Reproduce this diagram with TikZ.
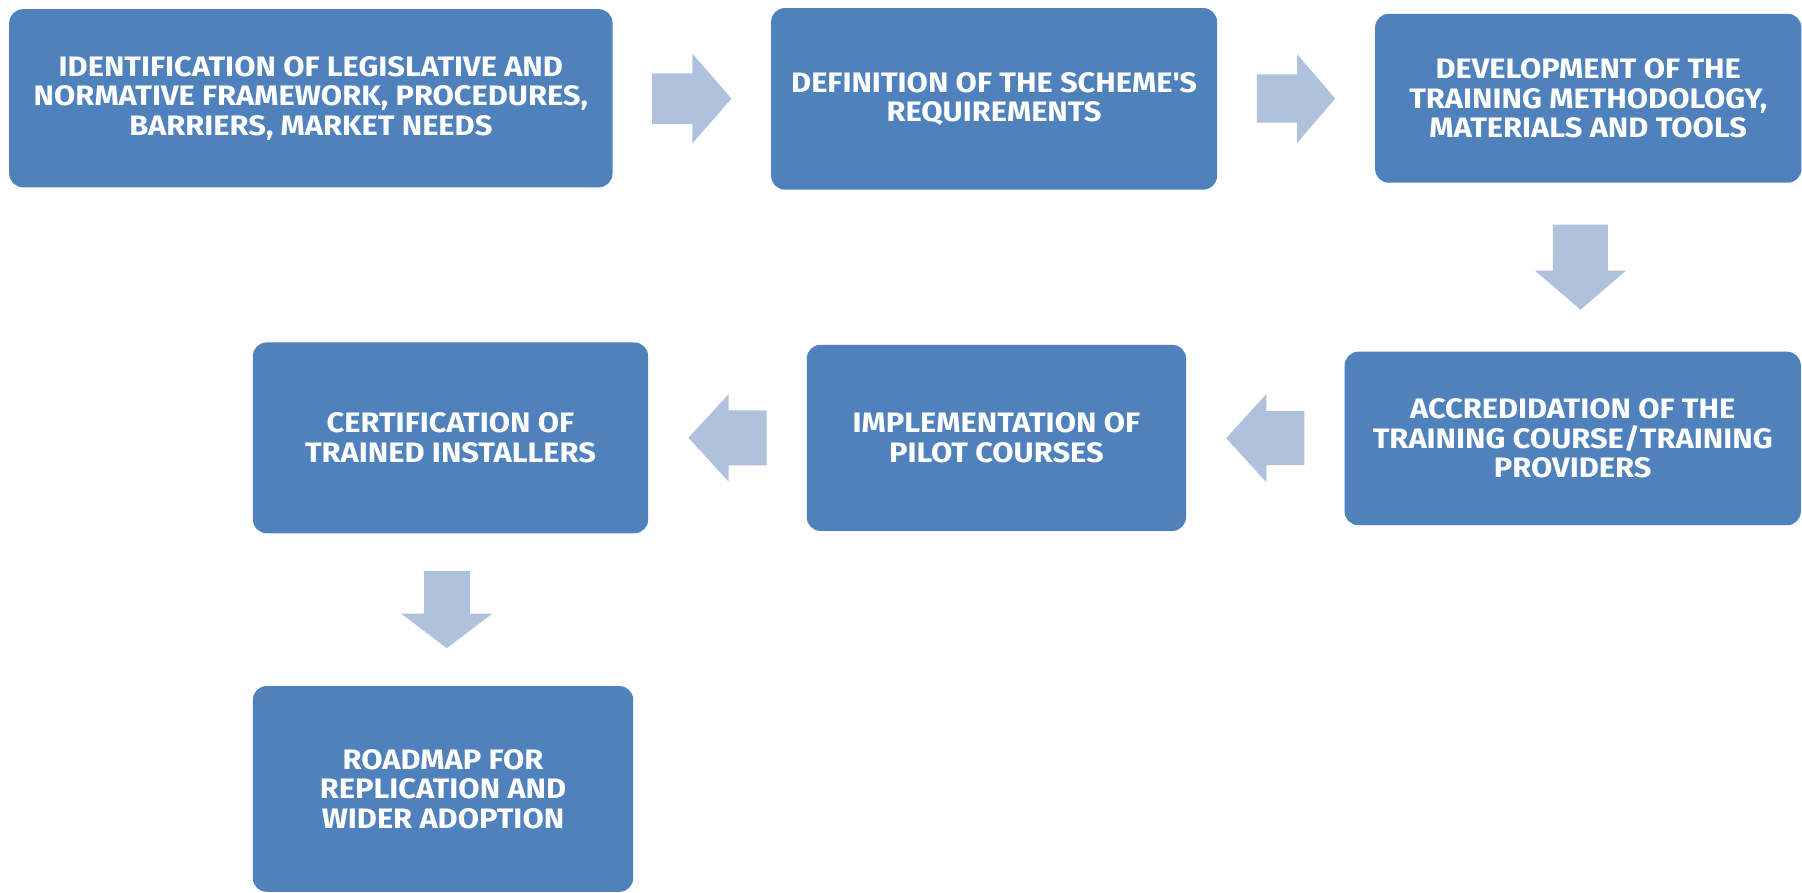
\documentclass[tikz,border=0pt]{standalone}
\usepackage{fontspec}
\setmainfont{Fira Sans}[BoldFeatures={FakeStretch=1.095}]
\usetikzlibrary{calc}
\definecolor{boxblue}{RGB}{79,129,189}
\definecolor{arrowblue}{RGB}{176,193,221}
\tikzset{
  stepbox/.style={fill=boxblue, rounded corners=12pt, text=white,
    font=\fontsize{24.5}{25.5}\selectfont\bfseries, align=center, inner sep=0pt},
  barrow/.style={fill=arrowblue}
}
% #1 centre, #2 angle, #3 length, #4 shaft width, #5 head width, #6 head length
\newcommand{\blkarrow}[6]{%
  \fill[barrow, shift={#1}, rotate=#2]
    ({-#3/2},{-#4/2}) -- ({#3/2-#6},{-#4/2}) -- ({#3/2-#6},{-#5/2}) --
    ({#3/2},0) -- ({#3/2-#6},{#5/2}) -- ({#3/2-#6},{#4/2}) --
    ({-#3/2},{#4/2}) -- cycle;}
\begin{document}
\begin{tikzpicture}[x=1pt,y=1pt]
\path[fill=white] (0,0) rectangle (1568,-777);
\useasboundingbox (0,0) rectangle (1568,-777);

\node[stepbox, minimum width=525pt, minimum height=155pt] (b1) at (270.5,-85.5)
  {IDENTIFICATION OF LEGISLATIVE AND\\NORMATIVE FRAMEWORK, PROCEDURES,\\BARRIERS, MARKET NEEDS};
\node[stepbox, minimum width=388pt, minimum height=158pt] (b2) at (865,-86)
  {DEFINITION OF THE SCHEME\textquotesingle S\\REQUIREMENTS};
\node[stepbox, minimum width=371pt, minimum height=147pt] (b3) at (1382,-85.5)
  {DEVELOPMENT OF THE\\TRAINING METHODOLOGY,\\MATERIALS AND TOOLS};
\node[stepbox, minimum width=397pt, minimum height=151pt] (b4) at (1368.5,-381.5)
  {ACCREDIDATION OF THE\\TRAINING COURSE/TRAINING\\PROVIDERS};
\node[stepbox, minimum width=330pt, minimum height=162pt] (b5) at (867,-381)
  {IMPLEMENTATION OF\\PILOT COURSES};
\node[stepbox, minimum width=344pt, minimum height=166pt] (b6) at (392,-381)
  {CERTIFICATION OF\\TRAINED INSTALLERS};
\node[stepbox, minimum width=331pt, minimum height=179pt] (b7) at (385.5,-686.5)
  {ROADMAP FOR\\REPLICATION AND\\WIDER ADOPTION};

\blkarrow{($(b1.east)!0.5!(b2.west)$)}{0}{69}{44}{78}{34}
\blkarrow{($(b2.east)!0.5!(b3.west)$)}{0}{68}{42}{77}{33}
\blkarrow{($(b3.south)!0.5!(b4.north)$)}{-90}{74}{48}{79}{34}
\blkarrow{($(b4.west)!0.5!(b5.east)$)}{180}{68}{47}{77}{35}
\blkarrow{($(b5.west)!0.5!(b6.east)$)}{180}{68}{48}{76}{35}
\blkarrow{($(b6.south)!0.5!(b7.north)$)}{-90}{67}{40}{79}{30}
\end{tikzpicture}
\end{document}
